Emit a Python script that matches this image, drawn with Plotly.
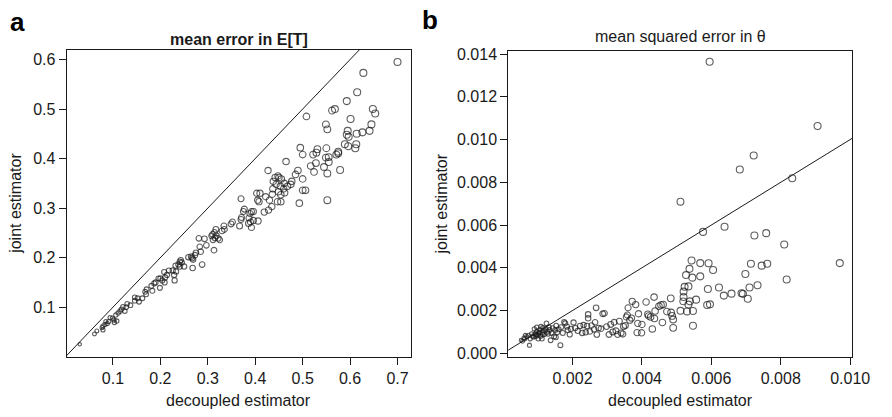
import plotly.graph_objects as go

# ---------------- data ----------------
# Panel a: mean error in E[T]
a_x = [0.700, 0.628, 0.615, 0.593, 0.648, 0.653, 0.562, 0.568, 0.508, 0.601, 0.549, 0.552, 0.645, 0.641,
       0.595, 0.593, 0.597, 0.614, 0.626, 0.589, 0.596, 0.613, 0.611, 0.495, 0.500, 0.531, 0.529, 0.522,
       0.550, 0.575, 0.571, 0.575, 0.549, 0.555, 0.555, 0.465, 0.517, 0.528, 0.545, 0.427, 0.490, 0.485,
       0.524, 0.552, 0.579, 0.448,
       0.500, 0.477, 0.475, 0.468, 0.461, 0.455, 0.450, 0.442, 0.438, 0.444, 0.453, 0.460, 0.462, 0.454,
       0.449, 0.437, 0.436, 0.500, 0.506, 0.493, 0.552, 0.370, 0.403, 0.410, 0.405, 0.408, 0.422, 0.430,
       0.447, 0.454, 0.435, 0.428, 0.419, 0.392, 0.396, 0.377, 0.375, 0.389, 0.396, 0.406, 0.387, 0.371,
       0.370, 0.390, 0.386, 0.367, 0.392, 0.352, 0.349, 0.334, 0.335, 0.330, 0.317, 0.314, 0.318, 0.322,
       0.325, 0.310, 0.315, 0.308, 0.311, 0.293, 0.281, 0.297, 0.313, 0.283, 0.285, 0.275, 0.273, 0.265,
       0.259,
       0.288, 0.269, 0.268, 0.267, 0.243, 0.241, 0.245, 0.238, 0.241, 0.250, 0.232, 0.226, 0.218, 0.233,
       0.229, 0.230, 0.214, 0.208, 0.210, 0.204, 0.200, 0.196, 0.190, 0.187, 0.181, 0.183, 0.199, 0.209,
       0.171, 0.168, 0.170, 0.162, 0.155, 0.152, 0.146, 0.146, 0.137, 0.130, 0.128, 0.121, 0.118, 0.125,
       0.115, 0.111, 0.106, 0.102, 0.108, 0.103, 0.099, 0.094, 0.091, 0.088, 0.085, 0.083, 0.079, 0.079,
       0.077, 0.066, 0.061, 0.030]
a_y = [0.595, 0.573, 0.534, 0.516, 0.500, 0.491, 0.497, 0.500, 0.485, 0.480, 0.469, 0.459, 0.469, 0.456,
       0.456, 0.448, 0.444, 0.450, 0.453, 0.429, 0.425, 0.429, 0.421, 0.422, 0.408, 0.419, 0.412, 0.408,
       0.421, 0.414, 0.408, 0.411, 0.402, 0.403, 0.393, 0.394, 0.385, 0.391, 0.383, 0.376, 0.376, 0.368,
       0.373, 0.370, 0.377, 0.365,
       0.359, 0.354, 0.348, 0.344, 0.350, 0.359, 0.362, 0.362, 0.354, 0.348, 0.344, 0.339, 0.331, 0.327,
       0.333, 0.339, 0.328, 0.336, 0.336, 0.310, 0.316, 0.319, 0.330, 0.330, 0.316, 0.313, 0.323, 0.316,
       0.313, 0.313, 0.303, 0.296, 0.292, 0.293, 0.293, 0.298, 0.293, 0.289, 0.275, 0.274, 0.280, 0.281,
       0.277, 0.272, 0.269, 0.264, 0.261, 0.272, 0.268, 0.264, 0.257, 0.254, 0.257, 0.251, 0.244, 0.239,
       0.236, 0.247, 0.240, 0.244, 0.236, 0.238, 0.239, 0.225, 0.215, 0.222, 0.212, 0.210, 0.205, 0.202,
       0.201,
       0.186, 0.196, 0.179, 0.199, 0.195, 0.192, 0.190, 0.186, 0.182, 0.182, 0.184, 0.174, 0.174, 0.172,
       0.165, 0.154, 0.165, 0.171, 0.160, 0.154, 0.158, 0.158, 0.150, 0.148, 0.143, 0.133, 0.139, 0.150,
       0.136, 0.131, 0.126, 0.118, 0.111, 0.118, 0.120, 0.113, 0.104, 0.107, 0.100, 0.101, 0.096, 0.092,
       0.092, 0.088, 0.084, 0.074, 0.072, 0.069, 0.078, 0.079, 0.071, 0.067, 0.071, 0.065, 0.062, 0.054,
       0.059, 0.052, 0.046, 0.025]

# Panel b: mean squared error in theta
b_x = [0.00595, 0.00906, 0.00722, 0.00682, 0.00833, 0.00511,
       0.00576, 0.00638, 0.00724, 0.00758, 0.00810, 0.00970, 0.00817,
       0.00543, 0.00568, 0.00592, 0.00605, 0.00537, 0.00527, 0.00545, 0.00568,
       0.00714, 0.00761, 0.00745, 0.00698, 0.00733, 0.00710,
       0.00523, 0.00534, 0.00520, 0.00590, 0.00622, 0.00636, 0.00658, 0.00687, 0.00691, 0.00705,
       0.00520, 0.00519, 0.00538, 0.00534, 0.00556, 0.00483, 0.00435, 0.00412, 0.00449, 0.00455,
       0.00461, 0.00588, 0.00596,
       0.00511, 0.00530, 0.00547, 0.00472, 0.00484, 0.00487, 0.00490, 0.00490, 0.00459, 0.00430,
       0.00436, 0.00438, 0.00425, 0.00419, 0.00417, 0.00547, 0.00390, 0.00388, 0.00372, 0.00382,
       0.00360, 0.00370, 0.00365, 0.00400, 0.00386, 0.00399, 0.00358,
       0.00052, 0.00056, 0.00060, 0.00062, 0.00064, 0.00068, 0.00073, 0.00076, 0.00078, 0.00082,
       0.00085, 0.00088, 0.00090, 0.00092, 0.00094, 0.00096, 0.00097, 0.00097, 0.00100, 0.00101,
       0.00103, 0.00104, 0.00106, 0.00108, 0.00109, 0.00112, 0.00113, 0.00115, 0.00115, 0.00118,
       0.00120, 0.00123, 0.00125, 0.00127, 0.00130, 0.00132, 0.00134, 0.00137, 0.00140, 0.00143,
       0.00147, 0.00150, 0.00152, 0.00153, 0.00156, 0.00160, 0.00165, 0.00167, 0.00172, 0.00176,
       0.00179, 0.00184, 0.00186, 0.00192, 0.00195, 0.00203, 0.00208, 0.00215, 0.00222, 0.00228,
       0.00232, 0.00238, 0.00242, 0.00245, 0.00245, 0.00250, 0.00255, 0.00262, 0.00265, 0.00268,
       0.00270, 0.00275, 0.00282, 0.00287, 0.00292, 0.00298, 0.00305, 0.00310, 0.00316, 0.00320,
       0.00325, 0.00330, 0.00335, 0.00340, 0.00345, 0.00347, 0.00352, 0.00355]
b_y = [0.01364, 0.01063, 0.00925, 0.00860, 0.00819, 0.00709,
       0.00568, 0.00592, 0.00551, 0.00562, 0.00509, 0.00422, 0.00345,
       0.00434, 0.00422, 0.00421, 0.00390, 0.00395, 0.00366, 0.00354, 0.00360,
       0.00419, 0.00419, 0.00410, 0.00371, 0.00318, 0.00308,
       0.00311, 0.00313, 0.00289, 0.00301, 0.00308, 0.00270, 0.00279, 0.00281, 0.00278, 0.00255,
       0.00263, 0.00243, 0.00243, 0.00228, 0.00251, 0.00257, 0.00263, 0.00240, 0.00220, 0.00226,
       0.00228, 0.00226, 0.00229,
       0.00199, 0.00196, 0.00198, 0.00195, 0.00191, 0.00175, 0.00158, 0.00119, 0.00144, 0.00114,
       0.00163, 0.00198, 0.00170, 0.00175, 0.00183, 0.00129, 0.00185, 0.00140, 0.00243, 0.00228,
       0.00213, 0.00165, 0.00155, 0.00135, 0.00097, 0.00096, 0.00179,
       0.00061, 0.00056, 0.00072, 0.00067, 0.00084, 0.00078, 0.00084, 0.00038, 0.00068, 0.00091,
       0.00080, 0.00076, 0.00114, 0.00091, 0.00079, 0.00088, 0.00102, 0.00122, 0.00085, 0.00068,
       0.00093, 0.00099, 0.00110, 0.00080, 0.00125, 0.00068, 0.00095, 0.00119, 0.00088, 0.00105,
       0.00090, 0.00114, 0.00140, 0.00100, 0.00091, 0.00122, 0.00109, 0.00061, 0.00095, 0.00118,
       0.00079, 0.00109, 0.00075, 0.00129, 0.00098, 0.00112, 0.00038, 0.00122, 0.00095, 0.00146,
       0.00140, 0.00125, 0.00109, 0.00088, 0.00114, 0.00144, 0.00118, 0.00105, 0.00128, 0.00095,
       0.00132, 0.00098, 0.00128, 0.00182, 0.00164, 0.00102, 0.00130, 0.00112, 0.00145, 0.00213,
       0.00088, 0.00118, 0.00115, 0.00185, 0.00187, 0.00125, 0.00088, 0.00135, 0.00100, 0.00145,
       0.00105, 0.00088, 0.00150, 0.00095, 0.00090, 0.00125, 0.00130, 0.00170]

a_ticks_x = [0.1, 0.2, 0.3, 0.4, 0.5, 0.6, 0.7]
a_ticks_y = [0.1, 0.2, 0.3, 0.4, 0.5, 0.6]
b_ticks_x = [0.002, 0.004, 0.006, 0.008, 0.010]
b_ticks_y = [0.000, 0.002, 0.004, 0.006, 0.008, 0.010, 0.012, 0.014]
identity = [-1.0, 1.0]  # y = x reference line

titles = ["<b>mean error in E[T]</b>", "mean squared error in θ"]
xlabel = "decoupled estimator"
ylabel = "joint estimator"

# ---------------- styling ----------------
W, H = 892, 417
FONT = "Liberation Sans, Arial, Helvetica, sans-serif"
INK = "#1a1a1a"


def fx(p):
    return p / W


def fy(p):
    return 1 - p / H


def sizes(xs, xmax):
    return [2.4 + 4.6 * min(1.0, (v / xmax)) ** 0.5 for v in xs]


fig = go.Figure()

fig.add_trace(go.Scatter(x=identity, y=identity, mode="lines", line=dict(color=INK, width=1),
                         xaxis="x", yaxis="y", showlegend=False, hoverinfo="skip"))
fig.add_trace(go.Scatter(x=a_x, y=a_y, mode="markers", xaxis="x", yaxis="y", showlegend=False,
                         marker=dict(symbol="circle-open", size=sizes(a_x, 0.6), color=INK,
                                     line=dict(width=1.1, color=INK))))
fig.add_trace(go.Scatter(x=identity, y=identity, mode="lines", line=dict(color=INK, width=1),
                         xaxis="x2", yaxis="y2", showlegend=False, hoverinfo="skip"))
fig.add_trace(go.Scatter(x=b_x, y=b_y, mode="markers", xaxis="x2", yaxis="y2", showlegend=False,
                         marker=dict(symbol="circle-open", size=sizes(b_x, 0.0055), color=INK,
                                     line=dict(width=1.1, color=INK))))

axis_common = dict(showgrid=False, zeroline=False, showline=True, mirror=True, linecolor=INK,
                   linewidth=1, ticks="outside", ticklen=7, tickwidth=1, tickcolor=INK,
                   tickfont=dict(family=FONT, size=16, color=INK))

fig.update_layout(
    width=W, height=H, margin=dict(l=0, r=0, t=0, b=0),
    paper_bgcolor="white", plot_bgcolor="white",
    xaxis=dict(domain=[fx(68), fx(419)], range=[0.0023, 0.7275], tickvals=a_ticks_x,
               ticktext=[f"{v:.1f}" for v in a_ticks_x], anchor="y", **axis_common),
    yaxis=dict(domain=[fy(360), fy(45)], range=[0.0004, 0.6196], tickvals=a_ticks_y,
               ticktext=[f"{v:.1f}" for v in a_ticks_y], anchor="x", **axis_common),
    xaxis2=dict(domain=[fx(518.7), fx(870)], range=[0.000148, 0.010065], tickvals=b_ticks_x,
                ticktext=[f"{v:.3f}" for v in b_ticks_x], anchor="y2", **axis_common),
    yaxis2=dict(domain=[fy(360), fy(46.7)], range=[-0.00015, 0.01412], tickvals=b_ticks_y,
                ticktext=[f"{v:.3f}" for v in b_ticks_y], anchor="x2", **axis_common),
)

ann = []
# panel titles
ann.append(dict(text=titles[0], x=fx(243.5), y=fy(34), showarrow=False, xanchor="center", yanchor="middle",
                font=dict(family=FONT, size=16, color=INK)))
ann.append(dict(text=titles[1], x=fx(694.4), y=fy(31), showarrow=False, xanchor="center", yanchor="middle",
                font=dict(family=FONT, size=16, color=INK)))
# panel letters
ann.append(dict(text="<b>a</b>", x=fx(8), y=fy(16), showarrow=False, xanchor="left", yanchor="middle",
                font=dict(family=FONT, size=26, color="black")))
ann.append(dict(text="<b>b</b>", x=fx(429), y=fy(14), showarrow=False, xanchor="left", yanchor="middle",
                font=dict(family=FONT, size=26, color="black")))
# axis titles
for cx in (243.5, 694.4):
    ann.append(dict(text=xlabel, x=fx(cx), y=fy(405), showarrow=False, xanchor="center", yanchor="middle",
                    font=dict(family=FONT, size=16, color=INK)))
for cx, cy in ((15, 202.5), (451, 203)):
    ann.append(dict(text=ylabel, x=fx(cx), y=fy(cy), showarrow=False, xanchor="center", yanchor="middle",
                    textangle=-90, font=dict(family=FONT, size=16, color=INK)))
for a in ann:
    a.update(xref="paper", yref="paper")
fig.update_layout(annotations=ann)

fig.write_html("out.html")
